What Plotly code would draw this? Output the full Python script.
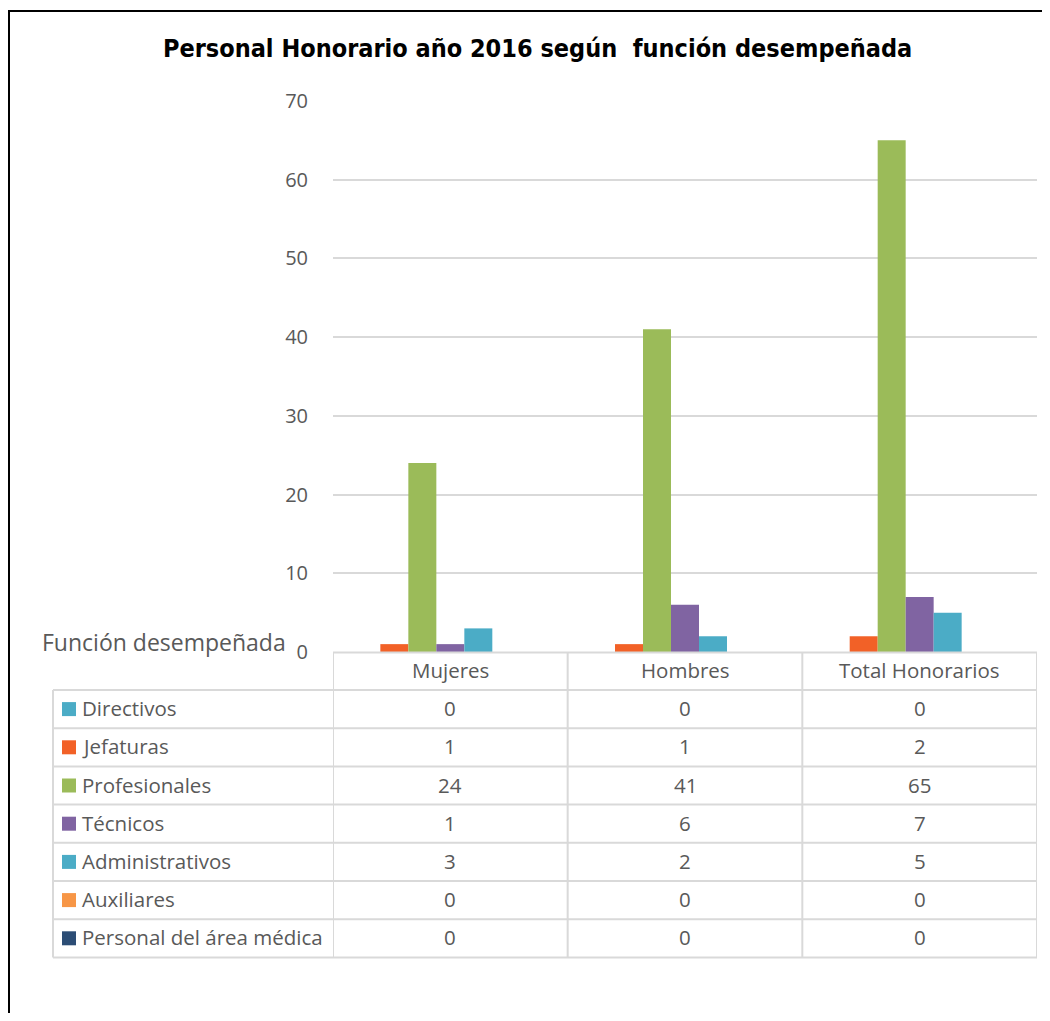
import plotly.graph_objects as go

# ---------------- data ----------------
categories = ["Mujeres", "Hombres", "Total Honorarios"]
series_names = ["Directivos", "Jefaturas", "Profesionales", "Técnicos",
                "Administrativos", "Auxiliares", "Personal del área médica"]
directivos = [0, 0, 0]
jefaturas = [1, 1, 2]
profesionales = [24, 41, 65]
tecnicos = [1, 6, 7]
administrativos = [3, 2, 5]
auxiliares = [0, 0, 0]
personal_medico = [0, 0, 0]
series_values = [directivos, jefaturas, profesionales, tecnicos,
                 administrativos, auxiliares, personal_medico]
y_ticks = [0, 10, 20, 30, 40, 50, 60, 70]
title_text = "Personal Honorario año 2016 según  función desempeñada"
table_title = "Función desempeñada"

# ---------------- style ----------------
colors = ["#4BACC6", "#F26127", "#9BBB59", "#8064A2", "#4BACC6", "#F79646", "#2C4D75"]
grey_text = "#595959"
grid_col = "#D9D9D9"
FONT = "Open Sans, DejaVu Sans, sans-serif"
TITLE_FONT = "DejaVu Sans Condensed, Liberation Sans Narrow, sans-serif"

# figure geometry (page offset 8px from body margin)
OFF = 8
W, H = 1034, 1005
ML, MR, MT, MB = 325, 5, 93, 361
PW = W - ML - MR
PH = H - MT - MB


def px(X):
    return (X - OFF - ML) / PW


def py(Y):
    return (H - MB - (Y - OFF)) / PH


fig = go.Figure()
for name, vals, col in zip(series_names, series_values, colors):
    fig.add_trace(go.Bar(x=categories, y=vals, name=name,
                         marker=dict(color=col, line=dict(width=0)),
                         showlegend=False))

fig.update_layout(
    width=W, height=H,
    margin=dict(l=ML, r=MR, t=MT, b=MB, pad=0),
    paper_bgcolor="white", plot_bgcolor="white",
    barmode="group", bargap=0.165, bargroupgap=0,
    font=dict(family=FONT, color=grey_text, size=20),
    xaxis=dict(type="category", showticklabels=False, showgrid=False,
               zeroline=False, showline=False, range=[-0.5, 2.5], fixedrange=True),
    yaxis=dict(range=[0, 70], tickvals=y_ticks, showgrid=True, gridcolor=grid_col,
               gridwidth=1.5, zeroline=False, showline=False,
               ticks="outside", ticklen=20, tickcolor="rgba(0,0,0,0)",
               tickfont=dict(family=FONT, size=20, color=grey_text)),
)

shapes = []
annots = []

# title
annots.append(dict(text=title_text, xref="paper", yref="paper", x=px(537), y=py(49),
                   xanchor="center", yanchor="middle", showarrow=False,
                   font=dict(family=TITLE_FONT, size=25, color="black", weight="bold")))

# table geometry
header_top = 652.5
header_bot = 690.0
row_h = 38.2
n_rows = len(series_names)
table_bot = header_bot + n_rows * row_h
label_left = 53
line_style = dict(color=grid_col, width=2)

# header top (axis line)
shapes.append(dict(type="line", xref="x", yref="paper", x0=-0.5, x1=2.5,
                   y0=py(header_top), y1=py(header_top), line=line_style))
# horizontal row lines
for i in range(n_rows + 1):
    yy = py(header_bot + i * row_h)
    shapes.append(dict(type="line", xref="paper", yref="paper", x0=px(label_left), x1=1,
                       y0=yy, y1=yy, line=line_style))
# vertical lines
shapes.append(dict(type="line", xref="paper", yref="paper", x0=px(label_left), x1=px(label_left),
                   y0=py(header_bot), y1=py(table_bot), line=line_style))
for b in [-0.5, 0.5, 1.5, 2.5]:
    shapes.append(dict(type="line", xref="x", yref="paper", x0=b, x1=b,
                       y0=py(header_top), y1=py(table_bot), line=line_style))

# header labels
for c in categories:
    annots.append(dict(text=c, xref="x", yref="paper", x=c, y=py((header_top + header_bot) / 2 - 1),
                       xanchor="center", yanchor="middle", showarrow=False,
                       font=dict(family=FONT, size=20.5, color=grey_text)))

# rows
for i, (name, vals, col) in enumerate(zip(series_names, series_values, colors)):
    yc = header_bot + (i + 0.5) * row_h
    shapes.append(dict(type="rect", xref="paper", yref="paper",
                       x0=px(62), x1=px(76), y0=py(yc - 7), y1=py(yc + 7),
                       fillcolor=col, line=dict(width=0)))
    annots.append(dict(text=name, xref="paper", yref="paper", x=px(80), y=py(yc - 1),
                       xanchor="left", yanchor="middle", showarrow=False,
                       font=dict(family=FONT, size=20.5, color=grey_text)))
    for c, v in zip(categories, vals):
        annots.append(dict(text=str(v), xref="x", yref="paper", x=c, y=py(yc - 1),
                           xanchor="center", yanchor="middle", showarrow=False,
                           font=dict(family=FONT, size=20.5, color=grey_text)))

# table title
annots.append(dict(text=table_title, xref="paper", yref="paper", x=px(40), y=py(642),
                   xanchor="left", yanchor="middle", showarrow=False,
                   font=dict(family=FONT, size=23, color=grey_text)))

# outer black frame (left and top edges visible)
shapes.append(dict(type="line", xref="paper", yref="paper", x0=px(9), x1=px(9),
                   y0=py(10), y1=py(1030), line=dict(color="black", width=2)))
shapes.append(dict(type="line", xref="paper", yref="paper", x0=px(8), x1=px(1060),
                   y0=py(11), y1=py(11), line=dict(color="black", width=2)))

fig.update_layout(shapes=shapes, annotations=annots)
fig.write_html("out.html")
